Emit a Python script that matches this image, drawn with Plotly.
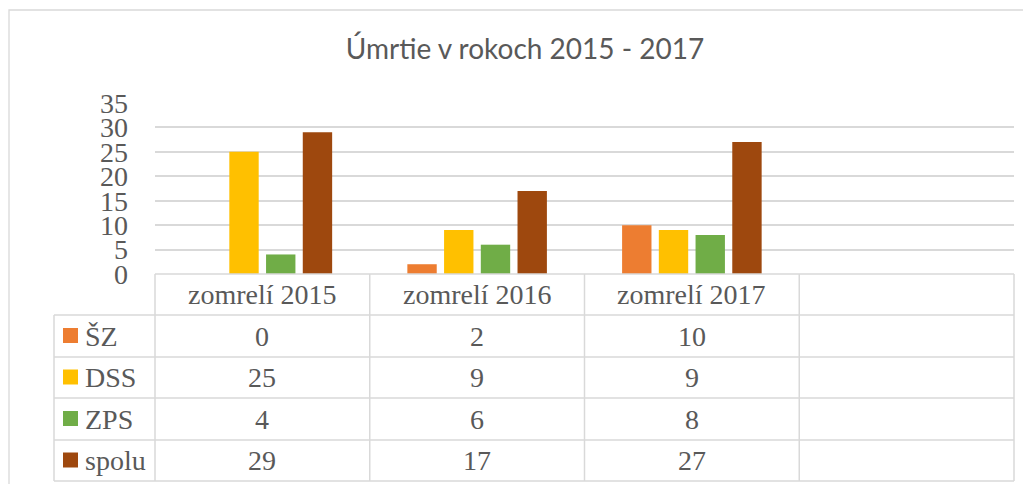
import plotly.graph_objects as go

categories = ["zomrelí 2015", "zomrelí 2016", "zomrelí 2017"]
series_names = ["ŠZ", "DSS", "ZPS", "spolu"]
sz = [0, 2, 10]
dss = [25, 9, 9]
zps = [4, 6, 8]
spolu = [29, 17, 27]
series_values = [sz, dss, zps, spolu]
colors = ["#ED7D31", "#FFC000", "#70AD47", "#9E480E"]
y_ticks = [0, 5, 10, 15, 20, 25, 30, 35]
title = "Úmrtie v rokoch 2015 - 2017"

W, H = 1031, 484
OFF = 8  # page body margin offset
TXT = "#595959"
GRID = "#D9D9D9"
SERIF = "Liberation Serif, Times New Roman, serif"

def px(x):
    return (x - OFF) / W

def py(y):
    return 1 - (y - OFF) / H

# layout geometry (target pixels in the page)
plot_l, plot_r = 155, 1014
plot_top, plot_bot = 103, 274
col_w = (plot_r - plot_l) / 4
row_edges = [274, 315, 357, 398, 440, 481]
legend_l = 54
FS = 28

fig = go.Figure()
for name, vals, c in zip(series_names, series_values, colors):
    fig.add_trace(go.Bar(x=categories, y=vals, name=name, marker=dict(color=c, line=dict(width=0)),
                         showlegend=False))

shapes = []
# outer chart border
shapes.append(dict(type="rect", xref="paper", yref="paper", x0=px(9), x1=px(1045), y0=py(10), y1=py(500),
                   line=dict(color=GRID, width=1.3), fillcolor="rgba(0,0,0,0)", layer="below"))
# horizontal table lines
shapes.append(dict(type="line", xref="paper", yref="paper", x0=px(plot_l), x1=px(plot_r),
                   y0=py(row_edges[0]), y1=py(row_edges[0]), line=dict(color=GRID, width=1.5)))
for ye in row_edges[1:]:
    shapes.append(dict(type="line", xref="paper", yref="paper", x0=px(legend_l), x1=px(plot_r),
                       y0=py(ye), y1=py(ye), line=dict(color=GRID, width=1.5)))
# vertical table lines
for i in range(5):
    xe = plot_l + i * col_w
    shapes.append(dict(type="line", xref="paper", yref="paper", x0=px(xe), x1=px(xe),
                       y0=py(row_edges[0]), y1=py(row_edges[-1]), line=dict(color=GRID, width=1.5)))
shapes.append(dict(type="line", xref="paper", yref="paper", x0=px(legend_l), x1=px(legend_l),
                   y0=py(row_edges[1]), y1=py(row_edges[-1]), line=dict(color=GRID, width=1.5)))

annotations = []
# header row
for i, cat in enumerate(categories):
    xc = plot_l + (i + 0.5) * col_w
    yc = (row_edges[0] + row_edges[1]) / 2
    annotations.append(dict(x=px(xc), y=py(yc), xref="paper", yref="paper", text=cat, showarrow=False,
                            xanchor="center", yanchor="middle", font=dict(family=SERIF, size=FS, color=TXT)))
# data rows
for r, (name, vals, c) in enumerate(zip(series_names, series_values, colors)):
    yc = (row_edges[r + 1] + row_edges[r + 2]) / 2
    shapes.append(dict(type="rect", xref="paper", yref="paper", x0=px(63), x1=px(78),
                       y0=py(yc - 8), y1=py(yc + 7), fillcolor=c, line=dict(width=0)))
    annotations.append(dict(x=px(83), y=py(yc), xref="paper", yref="paper", text=name, showarrow=False,
                            xanchor="left", yanchor="middle", font=dict(family=SERIF, size=FS, color=TXT)))
    for i, v in enumerate(vals):
        xc = plot_l + (i + 0.5) * col_w
        annotations.append(dict(x=px(xc), y=py(yc), xref="paper", yref="paper", text=str(v), showarrow=False,
                                xanchor="center", yanchor="middle", font=dict(family=SERIF, size=FS, color=TXT)))

fig.update_layout(
    width=W, height=H, autosize=False,
    margin=dict(l=0, r=0, t=0, b=0, pad=0, autoexpand=False),
    paper_bgcolor="white", plot_bgcolor="white",
    barmode="group", bargap=0.316, bargroupgap=0.2,
    title=dict(text=title, x=px(525), y=py(49), xref="paper", yref="paper", xanchor="center", yanchor="middle",
               automargin=False,
               font=dict(family="Lato, Carlito, sans-serif", size=28, color=TXT)),
    xaxis=dict(domain=[px(plot_l), px(plot_r)], type="category", range=[-0.5, 3.5], automargin=False,
               showticklabels=False, showgrid=False, zeroline=False, showline=False, ticks=""),
    yaxis=dict(domain=[py(plot_bot), py(plot_top)], range=[0, 35], tickvals=y_ticks, automargin=False,
               showgrid=True, gridcolor=GRID, gridwidth=1.5, zeroline=False, showline=False, ticks="",
               ticklabelstandoff=26,
               tickfont=dict(family=SERIF, size=FS, color=TXT)),
    shapes=shapes, annotations=annotations,
)

fig.write_html("out.html")
